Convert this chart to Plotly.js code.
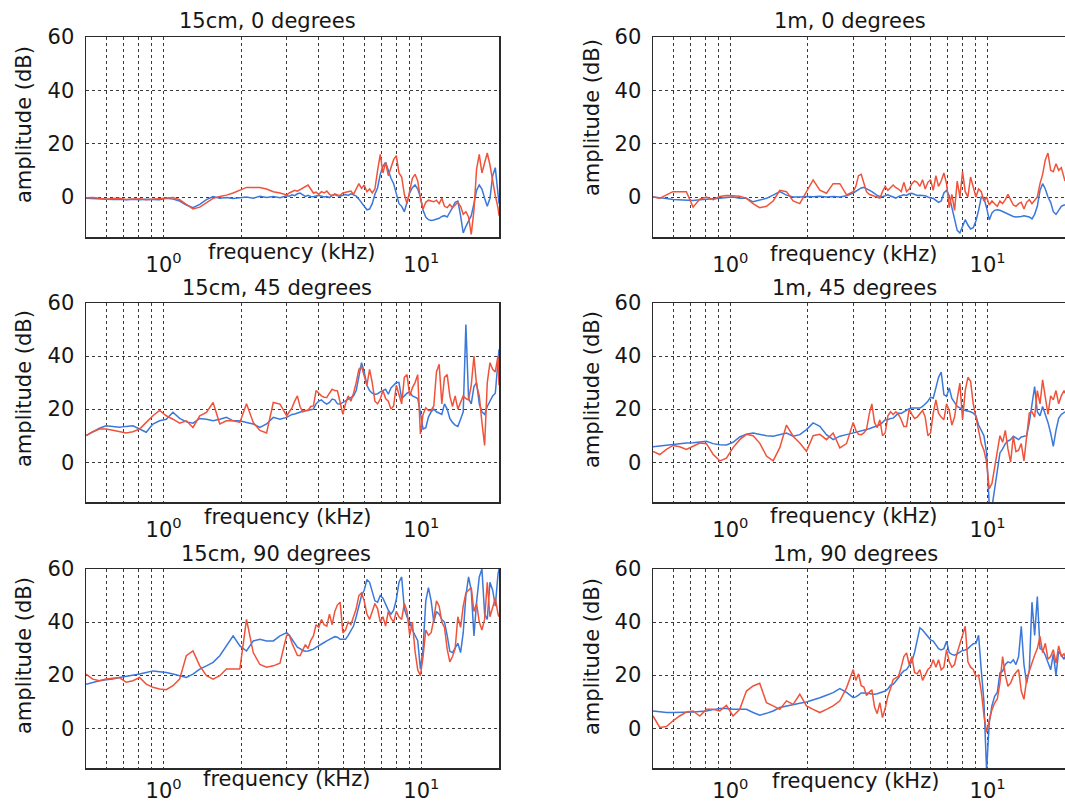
<!DOCTYPE html>
<html><head><meta charset="utf-8">
<script src="https://cdn.plot.ly/plotly-3.0.1.min.js"></script>
<style>html,body{margin:0;padding:0;background:#fff;} #chart{width:1065px;height:806px;}</style>
</head><body><div id="chart"></div>
<script>
// frequency axis (kHz)
const freq = [
 0.500,0.531,0.564,0.598,0.635,0.674,0.716,0.760,0.807,0.856,
 0.909,0.965,1.024,1.087,1.154,1.225,1.300,1.381,1.466,1.556,
 1.652,1.753,1.861,1.976,2.097,2.227,2.363,2.509,2.664,2.828,
 3.002,
 3.074,3.148,3.225,3.303,3.382,3.464,3.548,3.634,3.721,3.812,
 3.903,3.998,4.095,4.194,4.295,4.399,4.505,4.614,4.725,4.840,
 4.957,5.077,5.200,5.325,5.454,5.586,5.721,5.859,6.001,6.146,
 6.295,6.446,6.602,6.762,6.925,7.093,7.264,7.440,7.620,7.804,
 7.993,8.186,8.384,8.587,8.795,9.008,9.226,9.449,9.677,9.911,
 10.15,10.40,10.65,10.91,11.17,11.44,11.72,12.00,12.29,12.59,
 12.89,13.20,13.52,13.85,14.19,14.53,14.88,15.24,15.61,15.99,
 16.37,16.77,17.17,17.59,18.01,18.45,18.90,19.35,19.82,
 20.0];

// 15cm, 0 degrees
const blue15cm0 = [
 -0.5,-0.6,-0.8,-0.8,-0.9,-0.8,-1.0,-0.8,-1.0,-0.8,
 -0.9,-1.0,-0.5,-0.8,-1.5,-3.0,-4.0,-2.8,-1.0,0.2,
 -0.5,-0.2,-0.6,-0.2,0.0,-0.5,0.3,-0.2,0.2,-0.3,
 0.5,
 0.3,0.8,0.5,1.2,1.5,0.8,0.2,0.6,0.2,0.1,
 0.3,0.6,0.3,0.0,0.2,-0.2,0.6,0.9,0.5,0.3,
 0.6,0.9,0.6,1.2,0.8,0.3,-0.8,-2.0,-3.5,-4.8,
 -4.5,-2.5,1.0,3.5,8.5,11.5,13.0,10.0,7.0,5.0,
 1.5,-2.5,-3.5,-5.5,-2.0,1.5,3.5,4.5,3.0,0.0,
 -5.0,-7.5,-8.5,-8.8,-8.6,-8.3,-8.0,-7.3,-7.0,-7.5,
 -6.0,-4.0,-2.0,-1.5,-7.0,-13.5,-11.0,-9.0,-7.0,-2.5,
 2.5,4.5,3.0,-0.5,-3.5,-0.5,8.0,11.0,2.0,
 -2.5];
const red15cm0 = [
 -0.3,-0.2,-0.5,-0.8,-0.6,-0.5,-0.9,-0.8,-0.7,-1.0,
 -0.8,-0.8,-0.5,-0.2,-1.0,-2.8,-4.5,-3.8,-2.0,-0.5,
 0.2,0.7,1.5,2.6,3.6,3.6,3.6,3.0,2.0,1.5,
 0.8,
 1.5,2.0,2.5,2.2,2.8,3.5,4.2,4.5,3.0,1.5,
 1.8,1.0,2.0,1.5,2.2,1.0,0.5,1.2,0.8,0.6,
 1.5,1.8,2.0,2.2,1.0,3.0,5.0,3.2,4.5,2.0,
 3.0,1.5,3.0,10.0,16.0,9.0,13.0,8.0,11.0,14.0,
 15.5,9.0,7.5,1.0,-2.5,3.0,7.0,8.5,6.0,-0.5,
 -4.5,-2.0,-1.2,-1.5,-1.8,-1.2,-2.5,-0.5,-3.5,-4.0,
 -2.8,-4.0,-3.0,-2.0,-3.5,-6.5,-5.5,-7.5,-14.0,-5.0,
 10.5,16.0,9.0,13.0,16.5,12.0,6.0,0.5,-4.0,
 -7.0];

// 1m, 0 degrees
const blue1m0 = [
 0.0,-0.4,-0.6,-0.9,-1.0,-1.1,-1.3,-1.0,-0.9,-0.6,
 -0.5,-0.2,0.0,-0.5,-0.5,-1.8,-1.2,-0.5,0.7,2.0,
 0.7,0.0,0.0,0.2,0.1,0.3,0.0,0.2,0.0,0.5,
 1.5,
 2.2,3.0,3.4,3.6,3.2,2.6,2.0,1.2,0.6,0.2,
 0.1,0.5,0.8,0.4,0.0,-0.4,0.2,0.6,0.8,0.6,
 1.2,1.4,1.0,0.6,0.7,0.6,0.5,0.0,-0.4,-0.5,
 -1.2,-2.0,-1.5,1.5,2.5,0.5,-4.0,-8.5,-12.5,-13.5,
 -11.0,-8.5,-10.5,-12.0,-11.5,-9.0,-5.0,0.0,-0.5,-4.0,
 -8.6,-6.0,-5.0,-4.8,-5.0,-5.5,-6.0,-6.3,-6.8,-7.3,
 -7.5,-7.5,-7.3,-7.0,-7.2,-7.5,-8.2,-6.5,-3.5,2.5,
 5.0,3.0,0.0,-2.0,-5.5,-6.5,-5.0,-3.5,-3.0,
 -3.0];
const red1m0 = [
 0.0,-0.5,0.8,2.0,2.0,2.0,-3.8,-0.8,0.0,-1.0,
 0.2,0.6,0.5,0.3,-0.5,-2.5,-4.0,-3.5,-1.5,2.5,
 2.0,-1.5,-2.5,2.0,6.4,2.6,1.4,5.0,5.0,0.8,
 2.0,
 4.0,8.0,8.5,5.0,2.0,1.0,0.5,0.3,0.0,-0.5,
 2.0,4.0,2.5,3.5,4.5,3.5,3.0,2.0,5.5,2.0,
 3.0,5.0,6.0,5.5,4.0,6.5,3.0,5.5,6.5,2.5,
 8.0,4.0,6.0,9.0,5.0,-4.0,1.0,-5.0,6.0,0.0,
 9.5,2.0,0.0,7.5,3.5,0.0,3.0,2.0,-1.5,0.0,
 -3.0,-1.5,-2.5,-3.5,-1.5,-2.5,-1.0,1.0,-1.0,-3.0,
 -3.5,-2.5,-2.0,-4.5,-2.0,-1.0,-2.5,-1.0,0.0,5.0,
 8.5,14.0,16.5,10.0,9.5,12.5,10.0,11.0,7.0,
 6.0];

// 15cm, 45 degrees
const blue15cm45 = [
 10.0,11.3,12.8,13.7,13.5,13.2,13.5,13.7,12.5,11.3,
 14.4,15.6,16.2,18.8,16.5,15.2,14.7,16.5,16.2,15.6,
 16.2,16.9,15.6,15.6,15.0,14.4,13.1,14.4,16.9,16.2,
 16.9,
 17.5,18.0,18.2,18.6,18.8,19.2,19.4,19.5,19.8,20.0,
 22.0,23.0,23.5,22.5,21.9,22.5,23.8,23.5,22.0,21.9,
 22.5,23.3,23.8,24.5,25.0,27.0,33.0,37.5,34.0,29.0,
 27.0,26.0,25.5,25.8,26.5,27.0,27.5,25.6,28.0,29.0,
 30.0,30.0,24.0,25.0,26.0,26.5,25.0,24.5,24.0,18.8,
 12.5,13.0,17.0,19.0,20.0,19.0,18.5,18.0,22.0,20.0,
 16.5,15.0,14.0,13.5,16.2,19.0,51.9,24.0,22.0,28.5,
 30.0,22.0,19.0,18.0,21.0,23.0,25.0,26.0,37.0,
 42.5];
const red15cm45 = [
 10.0,11.5,12.5,12.5,12.0,11.6,11.0,11.5,12.5,15.0,
 17.5,19.5,17.5,16.2,14.7,15.6,13.1,17.5,18.8,22.5,
 14.4,15.6,15.6,15.0,22.0,15.0,12.0,11.0,22.5,21.9,
 17.5,
 19.0,20.5,23.0,25.0,21.0,19.0,19.5,19.5,21.0,21.2,
 27.0,26.0,25.0,24.5,24.4,26.0,27.5,27.0,26.9,22.5,
 18.0,22.0,25.0,23.0,26.0,30.0,35.0,36.0,32.0,29.0,
 35.0,30.0,23.0,22.0,23.8,27.0,24.0,23.0,20.0,21.2,
 29.0,25.0,22.0,32.0,33.0,25.0,28.0,30.0,33.0,10.6,
 18.0,20.5,19.5,19.5,21.2,34.0,36.9,22.0,32.0,33.0,
 25.0,21.0,25.0,20.0,22.5,25.0,24.0,23.5,29.0,40.0,
 29.0,25.0,15.0,6.3,30.0,37.5,35.0,34.0,40.0,
 29.0];

// 1m, 45 degrees
const blue1m45 = [
 5.8,6.1,6.5,6.6,6.9,7.2,7.3,7.5,7.9,7.0,
 6.6,6.5,7.5,9.5,10.5,11.0,10.5,10.0,9.8,10.4,
 11.0,9.8,10.4,12.3,14.8,13.5,10.4,8.5,9.8,10.4,
 11.0,
 11.2,11.4,11.6,11.8,12.3,12.6,13.0,13.5,13.8,14.1,
 15.0,16.0,16.0,16.5,16.6,17.5,18.5,18.4,19.0,19.8,
 20.2,20.4,20.4,20.4,20.4,21.0,22.0,23.0,24.5,24.1,
 28.0,32.0,34.0,25.5,24.8,28.0,24.0,22.5,21.0,20.5,
 19.8,19.5,19.3,19.0,18.5,17.5,14.0,12.0,10.0,3.5,
 -16.0,-17.0,-10.0,-3.0,3.5,5.0,7.0,8.0,8.5,9.8,
 9.0,8.5,9.5,9.8,10.0,15.0,22.0,28.5,19.0,17.5,
 21.0,18.0,15.0,11.0,6.0,12.0,16.5,18.0,19.0,
 19.0];
const red1m45 = [
 4.1,2.9,4.8,6.3,5.8,4.8,6.0,7.2,7.0,3.0,
 0.5,1.5,5.5,8.5,10.5,10.0,7.2,2.3,0.5,5.5,
 14.0,9.8,7.2,4.1,10.0,10.5,8.5,11.0,5.4,7.0,
 15.0,
 12.0,10.5,10.4,11.0,12.3,18.0,22.0,15.0,13.0,16.0,
 10.0,11.0,17.5,19.0,18.0,19.0,18.0,16.0,13.5,13.5,
 20.0,18.0,16.5,17.0,18.5,19.5,17.0,10.0,11.0,18.5,
 23.5,18.5,17.0,16.0,22.0,19.5,14.0,17.0,24.0,29.8,
 16.0,27.0,32.0,30.5,22.0,17.0,12.0,7.0,4.5,0.0,
 -10.0,-8.0,-2.0,4.5,10.0,7.5,12.0,5.0,0.0,9.8,
 4.0,4.5,7.0,0.5,9.8,18.5,19.0,17.0,27.0,22.0,
 31.0,24.0,18.0,25.0,23.5,27.0,22.0,25.0,27.0,
 26.0];

// 15cm, 90 degrees
const blue15cm90 = [
 16.6,17.3,17.9,18.3,18.5,19.1,19.5,20.0,20.4,21.0,
 21.6,21.3,21.0,20.4,19.8,19.1,20.4,22.3,23.5,24.8,
 27.3,31.0,34.8,31.0,29.1,32.9,33.5,32.9,32.9,34.8,
 36.0,
 35.0,33.5,32.0,30.5,30.0,29.3,29.0,29.1,29.5,29.8,
 30.5,31.0,31.5,32.3,32.9,33.5,34.2,34.5,34.3,33.5,
 33.5,33.5,35.0,37.0,38.5,42.0,46.0,50.0,52.0,56.0,
 55.0,51.0,48.0,47.5,50.0,49.0,46.5,44.5,43.0,44.5,
 48.5,55.0,57.0,45.0,42.0,40.0,37.0,35.0,33.0,22.3,
 30.0,48.0,53.0,48.0,40.0,44.0,43.0,41.0,40.0,35.0,
 29.0,28.5,30.0,32.0,28.5,36.0,50.0,57.0,52.0,34.8,
 47.5,57.0,60.0,43.0,41.0,55.0,52.0,46.0,58.0,
 60.0];
const red15cm90 = [
 20.4,18.5,17.9,18.5,18.8,19.1,17.3,17.9,19.1,16.6,
 15.4,14.8,14.5,16.0,18.5,27.3,29.1,23.5,19.8,18.5,
 19.8,22.3,22.3,22.3,41.0,28.5,24.0,23.0,23.5,24.5,
 35.0,
 35.0,32.0,29.5,27.5,27.3,29.5,31.5,30.0,33.0,34.8,
 39.0,38.0,41.0,39.0,38.5,43.0,39.0,44.0,46.5,47.5,
 36.0,37.0,40.0,39.0,42.0,45.0,50.0,51.0,48.0,43.0,
 41.0,44.0,47.0,45.0,40.0,42.0,38.5,44.0,41.5,40.0,
 44.0,42.0,41.0,47.0,44.0,35.0,40.0,29.0,22.0,19.8,
 27.0,37.0,35.0,36.0,41.0,48.0,46.0,40.0,38.0,29.8,
 25.0,27.0,30.0,42.0,38.0,46.0,51.0,52.0,53.0,44.0,
 47.0,40.0,37.0,41.0,55.0,42.0,46.0,49.0,43.0,
 42.0];

// 1m, 90 degrees
const blue1m90 = [
 6.5,6.2,5.9,5.9,5.9,6.0,6.1,6.3,6.5,7.0,
 7.4,7.4,7.1,7.1,7.1,5.9,4.9,5.6,6.5,7.8,
 8.4,9.0,9.4,9.9,10.6,11.5,12.4,13.4,14.9,13.5,
 11.5,
 11.8,12.5,13.3,13.3,13.3,13.1,12.9,12.8,13.0,13.4,
 13.6,14.0,14.8,16.2,16.5,17.6,19.0,20.5,21.6,22.1,
 23.5,25.2,28.5,33.0,37.8,37.0,35.8,34.5,33.3,32.8,
 31.5,30.0,29.5,30.0,32.8,28.5,27.8,27.5,28.0,28.8,
 29.3,29.5,30.0,31.0,31.8,32.0,35.0,22.0,10.0,-16.0,
 2.0,8.5,12.0,13.5,20.8,21.5,24.0,25.0,24.6,25.8,
 24.0,27.0,38.4,24.0,17.0,22.0,47.5,35.0,49.6,30.0,
 29.5,27.5,25.0,22.0,28.0,20.0,29.0,27.5,26.0,
 27.0];
const red1m90 = [
 4.6,0.3,0.6,2.8,4.6,6.1,6.5,4.6,7.1,7.1,
 6.5,8.6,4.6,7.1,14.0,15.9,16.9,9.6,8.4,7.1,
 10.3,9.0,12.8,8.4,7.1,5.9,7.1,8.4,10.3,15.2,
 22.1,
 18.0,20.5,16.0,15.5,12.3,13.5,14.5,8.0,5.5,9.6,
 4.0,7.5,12.0,15.0,18.4,19.0,19.6,23.0,27.0,28.4,
 24.0,27.0,21.0,20.5,22.1,18.0,20.0,22.1,23.0,25.8,
 23.0,25.8,22.0,23.0,29.6,25.0,23.0,24.0,28.5,32.0,
 34.6,38.4,25.0,23.0,22.1,19.5,20.0,14.0,5.0,-1.6,
 3.0,7.0,9.5,11.0,17.1,27.0,20.0,15.8,17.0,19.6,
 21.0,22.1,14.0,10.9,18.4,22.0,24.6,27.5,30.0,34.6,
 28.5,32.0,26.0,27.0,29.6,24.5,31.0,27.0,28.0,
 27.0];

const panelTitles = ['15cm, 0 degrees','1m, 0 degrees','15cm, 45 degrees','1m, 45 degrees','15cm, 90 degrees','1m, 90 degrees'];
const blueSeries = [blue15cm0, blue1m0, blue15cm45, blue1m45, blue15cm90, blue1m90];
const redSeries  = [red15cm0, red1m0, red15cm45, red1m45, red15cm90, red1m90];
const decadeTicks = [1, 10];
const decadeLabels = ['10<sup>0</sup>', '10<sup>1</sup>'];
const minorGrid = [0.6,0.7,0.8,0.9,2,3,4,5,6,7,8,9];
const yTicks = [0,20,40,60];
const xLabel = 'frequency (kHz)';
const yLabel = 'amplitude (dB)';

const W = 1065, H = 806;
const FONT = 'DejaVu Sans, Arial, sans-serif';
const INK = '#161616';
const GRID = '#3a3a3a';
// panel boxes in px: [left, right, top, bottom]
const boxes = [
 [86,499,37,237],[653,1065,37,237],
 [86,499,303,502],[653,1065,303,502],
 [86,499,569,768],[653,1065,569,768]];
const tickGap = [8,8,8,8,3,3];
const titlePos = [[267,21],[850,21],[277,288],[854,288],[276,554],[855,554]];
const xlabPos  = [[291,252],[853,254],[288,517],[853,516],[286,779],[855,781]];
const ylabPos  = [[24,125],[592,118],[24,389],[592,390],[24,656],[592,657]];

const traces = [];
const layout = {
  width: W, height: H, margin: {l:0,r:0,t:0,b:0}, autosize:false,
  paper_bgcolor:'#fff', plot_bgcolor:'#fff', showlegend:false, hovermode:false,
  font:{family:FONT, size:21, color:INK}, annotations: []
};
boxes.forEach((b, i) => {
  const k = i + 1;
  const xa = 'xaxis' + (k === 1 ? '' : k), ya = 'yaxis' + (k === 1 ? '' : k);
  const xr = 'x' + (k === 1 ? '' : k), yr = 'y' + (k === 1 ? '' : k);
  layout[xa] = {
    type:'log', range:[Math.log10(0.5), Math.log10(20)], domain:[b[0]/W, Math.min(1,b[1]/W)],
    anchor: yr, tickmode:'array', tickvals: decadeTicks, ticktext: decadeLabels,
    ticks:'outside', ticklen:tickGap[i], tickcolor:'rgba(0,0,0,0)',
    showgrid:true, gridcolor:GRID, griddash:'dot', gridwidth:1,
    minor:{tickmode:'array', tickvals:minorGrid, showgrid:true, gridcolor:GRID, griddash:'dot', gridwidth:1, ticks:''},
    showline:true, mirror:true, linecolor:'#2a2a2a', linewidth:1.5,
    zeroline:false, automargin:false, fixedrange:true,
    tickfont:{family:FONT, size:21, color:INK}
  };
  layout[ya] = {
    range:[-15,60], domain:[1-b[3]/H, 1-b[2]/H], anchor: xr,
    tickmode:'array', tickvals: yTicks,
    ticks:'outside', ticklen:6, tickcolor:'rgba(0,0,0,0)',
    showgrid:true, gridcolor:GRID, griddash:'dot', gridwidth:1,
    showline:true, mirror:true, linecolor:'#2a2a2a', linewidth:1.5,
    zeroline:false, automargin:false, fixedrange:true,
    tickfont:{family:FONT, size:21, color:INK}
  };
  traces.push({x:freq, y:blueSeries[i], xaxis:xr, yaxis:yr, type:'scatter', mode:'lines',
    line:{color:'#3a78dc', width:1.5}});
  traces.push({x:freq, y:redSeries[i], xaxis:xr, yaxis:yr, type:'scatter', mode:'lines',
    line:{color:'#f0533a', width:1.5}});
  layout.annotations.push({text:panelTitles[i], xref:'paper', yref:'paper',
    x:titlePos[i][0]/W, y:1-titlePos[i][1]/H, xanchor:'center', yanchor:'middle', showarrow:false,
    font:{family:FONT, size:21, color:INK}});
  layout.annotations.push({text:xLabel, xref:'paper', yref:'paper',
    x:xlabPos[i][0]/W, y:1-xlabPos[i][1]/H, xanchor:'center', yanchor:'middle', showarrow:false,
    font:{family:FONT, size:21, color:INK}});
  layout.annotations.push({text:yLabel, xref:'paper', yref:'paper', textangle:-90,
    x:ylabPos[i][0]/W, y:1-ylabPos[i][1]/H, xanchor:'center', yanchor:'middle', showarrow:false,
    font:{family:FONT, size:21, color:INK}});
});
Plotly.newPlot('chart', traces, layout, {staticPlot:true, displayModeBar:false});
</script></body></html>
